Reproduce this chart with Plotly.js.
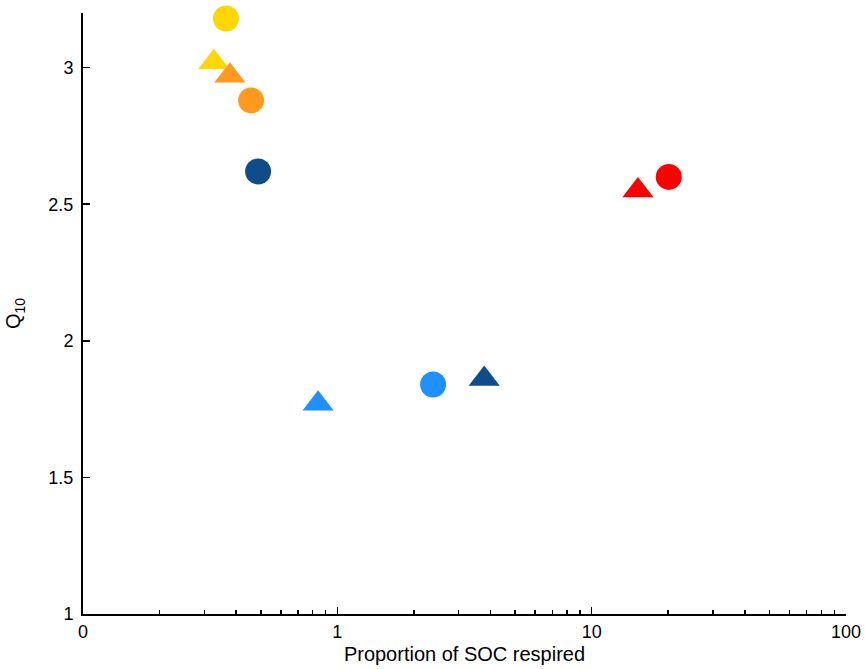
<!DOCTYPE html>
<html>
<head>
<meta charset="utf-8">
<script src="https://cdn.plot.ly/plotly-3.0.1.min.js"></script>
<style>
  html, body { margin: 0; padding: 0; background: #fff; }
  #chart { width: 865px; height: 669px; }
</style>
</head>
<body>
<div id="chart"></div>
<script>
// Colour of each soil group (same order in every array below)
const groupColors = ['#FFD700', '#FF9A1E', '#0F4D8A', '#1E90FF', '#FF0000'];

// Circles
const circleSOC = [0.365, 0.458, 0.488, 2.38, 20.1];
const circleQ10 = [3.18, 2.88, 2.62, 1.84, 2.60];

// Triangles
const triangleSOC = [0.327, 0.378, 3.78, 0.84, 15.2];
const triangleQ10 = [3.02, 2.97, 1.86, 1.77, 2.55];

// Axis ticks
const xTickVals = [0.1, 1, 10, 100];
const xTickText = ['0', '1', '10', '100'];
const xMinorVals = [0.2,0.3,0.4,0.5,0.6,0.7,0.8,0.9, 2,3,4,5,6,7,8,9, 20,30,40,50,60,70,80,90];
const yTickVals = [1, 1.5, 2, 2.5, 3];
const yTickText = ['1', '1.5', '2', '2.5', '3'];

const font = { family: 'Liberation Sans, Arial, sans-serif', size: 18, color: '#000' };
const titleFont = { family: 'Liberation Sans, Arial, sans-serif', size: 20, color: '#000' };

const traces = [
  {
    x: triangleSOC, y: triangleQ10, type: 'scatter', mode: 'markers',
    marker: { symbol: 'triangle-up', size: 27, color: groupColors, line: { width: 0 } },
    cliponaxis: false, hoverinfo: 'x+y', showlegend: false
  },
  {
    x: circleSOC, y: circleQ10, type: 'scatter', mode: 'markers',
    marker: { symbol: 'circle', size: 26, color: groupColors, line: { width: 0 } },
    cliponaxis: false, hoverinfo: 'x+y', showlegend: false
  }
];

const layout = {
  width: 865, height: 669,
  margin: { l: 83, r: 19, t: 13, b: 55, pad: 0 },
  paper_bgcolor: '#fff', plot_bgcolor: '#fff',
  font: font,
  showlegend: false,
  xaxis: {
    type: 'log', range: [-1, 2],
    showgrid: false, zeroline: false,
    showline: true, linecolor: '#000', linewidth: 2,
    ticks: 'inside', ticklen: 7, tickwidth: 1.5, tickcolor: '#000',
    tickvals: xTickVals, ticktext: xTickText,
    tickfont: font,
    minor: { ticks: 'inside', ticklen: 4, tickwidth: 1.5, tickcolor: '#000', tickvals: xMinorVals, showgrid: false },
    title: { text: 'Proportion of SOC respired', font: titleFont, standoff: 6 },
    automargin: false
  },
  yaxis: {
    range: [1, 3.2],
    showgrid: false, zeroline: false,
    showline: true, linecolor: '#000', linewidth: 2,
    ticks: 'inside', ticklen: 7, tickwidth: 1.5, tickcolor: '#000',
    tickvals: yTickVals, ticktext: yTickText,
    tickfont: font, ticklabelstandoff: 4,
    title: { text: 'Q<sub>10</sub>', font: titleFont, standoff: 22 },
    automargin: false
  }
};

Plotly.newPlot('chart', traces, layout, { displayModeBar: false, staticPlot: true });
</script>
</body>
</html>
